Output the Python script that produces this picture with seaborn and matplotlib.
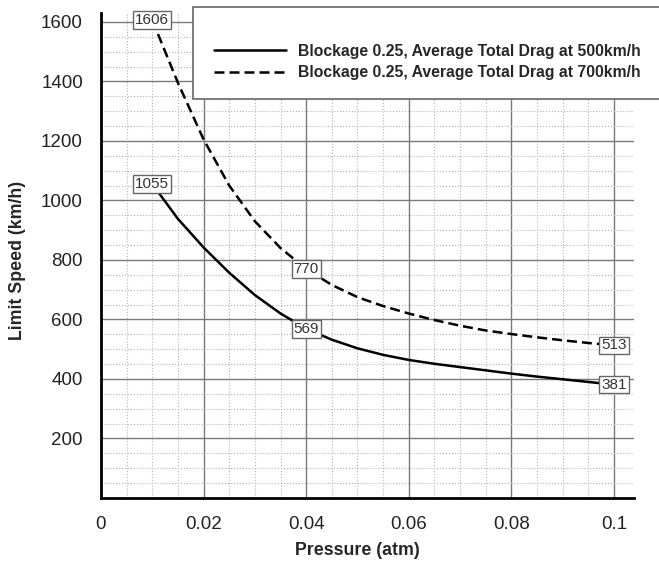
import numpy as np
import pandas as pd
import seaborn as sns
import matplotlib.pyplot as plt
from matplotlib.ticker import MultipleLocator
from matplotlib.patches import Rectangle

pressure = [0.01, 0.015, 0.02, 0.025, 0.03, 0.035, 0.04, 0.045, 0.05, 0.055,
            0.06, 0.065, 0.07, 0.075, 0.08, 0.085, 0.09, 0.095, 0.1]
speed_500 = [1055, 938, 842, 757, 682, 620, 569, 532, 503, 481,
             464, 451, 440, 429, 418, 408, 399, 390, 381]
speed_700 = [1606, 1395, 1205, 1050, 930, 840, 770, 716, 675, 645,
             620, 598, 579, 563, 551, 540, 530, 521, 513]
series_names = ["Blockage 0.25, Average Total Drag at 500km/h",
                "Blockage 0.25, Average Total Drag at 700km/h"]
label_points = [0.01, 0.04, 0.1]

df = pd.DataFrame({
    "pressure": pressure * 2,
    "speed": speed_500 + speed_700,
    "series": [series_names[0]] * len(pressure) + [series_names[1]] * len(pressure),
})

sns.set_style("white")
plt.rcParams["font.family"] = ["Liberation Sans", "DejaVu Sans"]

fig = plt.figure(figsize=(6.59, 5.61), dpi=100)
ax = fig.add_axes([101 / 659, 1 - 498 / 561, 533 / 659, 485 / 561])

sns.lineplot(data=df, x="pressure", y="speed", style="series",
             dashes={series_names[0]: "", series_names[1]: (4, 2)},
             color="black", linewidth=1.8, legend=False, ax=ax)

xmax, ymax = 0.1039, 1630
ax.set_xlim(0, xmax)
ax.set_ylim(0, ymax)
ax.xaxis.set_minor_locator(MultipleLocator(0.005))
ax.yaxis.set_minor_locator(MultipleLocator(50))
ax.set_yticks([200, 400, 600, 800, 1000, 1200, 1400, 1600])
ax.set_xticks([0, 0.02, 0.04, 0.06, 0.08, 0.1])
ax.set_xticklabels(["0", "0.02", "0.04", "0.06", "0.08", "0.1"])

ax.grid(which="major", color="#7a7a7a", linewidth=1.0, linestyle="-")
ax.grid(which="minor", color="#b5b5b5", linewidth=0.8, linestyle=":")
ax.set_axisbelow(True)

for s in ["top", "right"]:
    ax.spines[s].set_visible(False)
for s in ["left", "bottom"]:
    ax.spines[s].set_color("black")
    ax.spines[s].set_linewidth(2)

ax.tick_params(which="both", direction="in", width=2, color="black",
               labelsize=13.5, pad=13, labelcolor="#222222")
ax.tick_params(which="major", length=8)
ax.tick_params(which="minor", length=6)
ax.tick_params(axis="y", which="minor", length=8)

ax.set_xlabel("Pressure (atm)", fontsize=12.8, fontweight="bold")
ax.set_ylabel("Limit Speed (km/h)", fontsize=12.8, fontweight="bold")
# labels sit in the middle of the 0-0.1 / 0-1600 ranges
ax.xaxis.set_label_coords(0.05 / xmax, -44 / 485)
ax.yaxis.set_label_coords(-75 / 533, 800 / ymax)

# value boxes at chosen pressures
for p in label_points:
    i = pressure.index(p)
    for vals in (speed_500, speed_700):
        ax.text(p, vals[i], str(vals[i]), ha="center", va="center",
                fontsize=11, color="#333333", zorder=5,
                bbox=dict(boxstyle="square,pad=0.12", fc="white",
                          ec="#666666", lw=1))

# legend box running off the right edge
fig.patches.append(Rectangle((193 / 659, 1 - 99 / 561), 0.8, 92 / 561,
                             transform=fig.transFigure, fc="white",
                             ec="#666666", lw=1.2, zorder=10))
leg = fig.legend(handles=ax.lines[:2], labels=series_names,
                 loc="upper left", bbox_to_anchor=(206 / 659, 1 - 36 / 561),
                 frameon=False, handlelength=4.6, handletextpad=0.76,
                 labelspacing=0.4, borderpad=0,
                 prop={"weight": "bold", "size": 11.3})
leg.set_zorder(11)

fig.savefig("out.png", dpi=100)
